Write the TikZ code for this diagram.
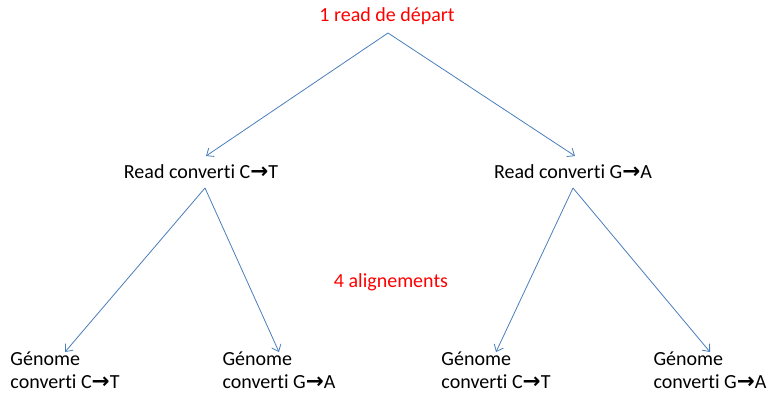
\documentclass[tikz,border=0pt]{standalone}
\usepackage{fontspec}
\setmainfont[Ligatures=NoCommon]{Carlito}
\newfontfamily\arrowfont{DejaVu Sans}
\usetikzlibrary{arrows.meta}
\definecolor{linkblue}{HTML}{4A7EBB}
\newcommand{\conv}{{\arrowfont\bfseries\fontsize{21.5}{21.5}\selectfont →}}
\tikzset{
  every node/.style={font=\fontsize{20}{23}\selectfont, inner sep=0pt},
  redlabel/.style={text=red},
  genome/.style={align=left, anchor=north},
  link/.style={draw=linkblue, line width=0.8pt, -{Straight Barb[length=6pt, width=10pt]}}
}
\begin{document}
\begin{tikzpicture}[x=1pt, y=-1pt]
\useasboundingbox (0,0) rectangle (769,394);
\node[redlabel] (top) at (387,16) {1 read de départ};
\coordinate (apex) at (388,33);
\node (rct) at (201,172) {Read converti C\conv T};
\node (rga) at (573,172) {Read converti G\conv A};
\coordinate (rctin) at (206,156);
\coordinate (rgain) at (575,156);
\coordinate (rctout) at (205,188);
\coordinate (rgaout) at (573,188);
\node[redlabel] (align) at (391,282) {4 alignements};
\node[genome] (g1) at (65,352) {Génome\\converti C\conv T};
\node[genome] (g2) at (279,352) {Génome\\converti G\conv A};
\node[genome] (g3) at (496,352) {Génome\\converti C\conv T};
\node[genome] (g4) at (710,352) {Génome\\converti G\conv A};
\draw[link] (apex) -- (rctin);
\draw[link] (apex) -- (rgain);
\draw[link] (rctout) -- (g1.north);
\draw[link] (rctout) -- (g2.north);
\draw[link] (rgaout) -- (g3.north);
\draw[link] (rgaout) -- (g4.north);
\end{tikzpicture}
\end{document}
